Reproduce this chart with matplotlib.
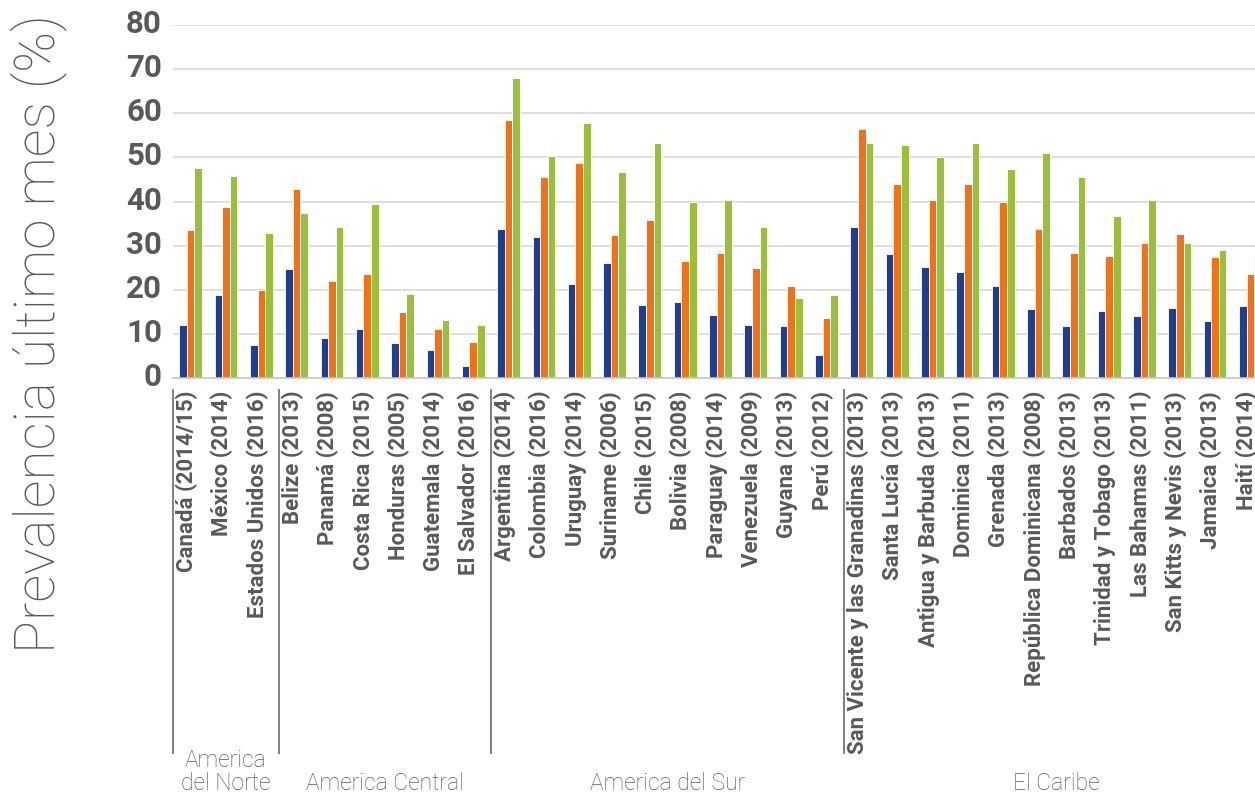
import matplotlib
matplotlib.use("Agg")
import matplotlib.pyplot as plt
import matplotlib.transforms as mtransforms
import numpy as np

# data
paises = [
    "Canadá (2014/15)", "México (2014)", "Estados Unidos (2016)",
    "Belize (2013)", "Panamá (2008)", "Costa Rica (2015)", "Honduras (2005)",
    "Guatemala (2014)", "El Salvador (2016)",
    "Argentina (2014)", "Colombia (2016)", "Uruguay (2014)", "Suriname (2006)",
    "Chile (2015)", "Bolivia (2008)", "Paraguay (2014)", "Venezuela (2009)",
    "Guyana (2013)", "Perú (2012)",
    "San Vicente y las Granadinas (2013)", "Santa Lucía (2013)",
    "Antigua y Barbuda (2013)", "Dominica (2011)", "Grenada (2013)",
    "República Dominicana (2008)", "Barbados (2013)", "Trinidad y Tobago (2013)",
    "Las Bahamas (2011)", "San Kitts y Nevis (2013)", "Jamaica (2013)",
    "Haití (2014)",
]
serie_azul = [12.1, 18.9, 7.5, 24.7, 9.1, 11.1, 7.9, 6.3, 2.8,
              33.9, 32.0, 21.3, 26.2, 16.6, 17.2, 14.3, 12.1, 11.8, 5.3,
              34.2, 28.1, 25.3, 24.0, 21.0, 15.6, 11.8, 15.3, 14.0, 15.9, 13.0, 16.3]
serie_naranja = [33.6, 38.8, 20.1, 42.9, 22.0, 23.6, 15.0, 11.1, 8.2,
                 58.4, 45.5, 48.7, 32.4, 35.8, 26.5, 28.4, 25.0, 20.8, 13.6,
                 56.5, 44.0, 40.3, 44.0, 40.0, 33.9, 28.4, 27.8, 30.7, 32.7, 27.5, 23.6]
serie_verde = [47.7, 45.8, 32.9, 37.4, 34.2, 39.4, 19.1, 13.3, 12.0,
               67.9, 50.3, 57.7, 46.7, 53.2, 39.9, 40.3, 34.2, 18.1, 18.8,
               53.2, 52.9, 50.0, 53.2, 47.4, 51.0, 45.5, 36.8, 40.3, 30.6, 29.0, 27.7]
regiones = ["America\ndel Norte", "America Central", "America del Sur", "El Caribe"]
region_tamanos = [3, 6, 10, 12]

azul = "#1f3f8c"
naranja = "#ee7219"
verde = "#9bbf3c"
gris = "#595959"

bold_font = ["Roboto", "DejaVu Sans"]
light_font = ["Roboto", "DejaVu Sans"]

fig = plt.figure(figsize=(12.55, 7.94), dpi=100)
ax = fig.add_axes([173 / 1255, 1 - 378.3 / 794, 1 - 173 / 1255, (378.3 - 25) / 794])

x = np.arange(len(paises))
w = 0.215
ax.bar(x - w, serie_azul, w, color=azul, edgecolor="white", linewidth=0.6)
ax.bar(x, serie_naranja, w, color=naranja, edgecolor="white", linewidth=0.6)
ax.bar(x + w, serie_verde, w, color=verde, edgecolor="white", linewidth=0.6)

ax.set_xlim(-0.5, 30.13)
ax.set_ylim(0, 80)
ax.set_yticks(range(0, 81, 10))
ax.yaxis.grid(True, color="#d9d9d9", linewidth=1.2)
ax.set_axisbelow(True)
for s in ["left", "right", "top"]:
    ax.spines[s].set_visible(False)
ax.spines["bottom"].set_color("#c8c8c8")
ax.spines["bottom"].set_linewidth(1.2)

ax.set_xticks(x)
ax.set_xticklabels(paises, rotation=90, va="top", ha="center",
                   fontsize=16, fontweight="bold", color=gris, family=bold_font)
ax.tick_params(axis="x", length=0, pad=9)
ax.tick_params(axis="y", length=0, pad=8, labelsize=22.5, labelcolor=gris)
shift_x = mtransforms.ScaledTranslation(-4 / 100, 0, fig.dpi_scale_trans)
for lab in ax.get_xticklabels():
    lab.set_transform(lab.get_transform() + shift_x)
offset = mtransforms.ScaledTranslation(0, 4 / 100, fig.dpi_scale_trans)
for lab in ax.get_yticklabels():
    lab.set_fontweight("bold")
    lab.set_family(bold_font)
    lab.set_transform(lab.get_transform() + offset)

# region separators and names below the labels
trans = mtransforms.blended_transform_factory(ax.transData, fig.transFigure)
start = -0.5
for nombre, n in zip(regiones, region_tamanos):
    ax.plot([start, start], [1 - 390 / 794, 1 - 753 / 794], color="#7f7f7f",
            linewidth=1.4, transform=trans, clip_on=False)
    centro = start + n / 2
    if "\n" in nombre:
        ax.text(centro, 1 - 772 / 794, nombre, transform=trans, ha="center", va="center",
                fontsize=16.5, color=gris, family=light_font, fontweight="light",
                linespacing=1.0)
    else:
        ax.text(centro, 1 - 784 / 794, nombre, transform=trans, ha="center", va="center",
                fontsize=16.5, color=gris, family=light_font, fontweight="light")
    start += n

fig.text(0.031, 1 - 334 / 794, "Prevalencia último mes (%)", rotation=90,
         ha="center", va="center", fontsize=39.5, color="#595959",
         family=light_font, fontweight="light")

fig.savefig("out.png", dpi=100)
